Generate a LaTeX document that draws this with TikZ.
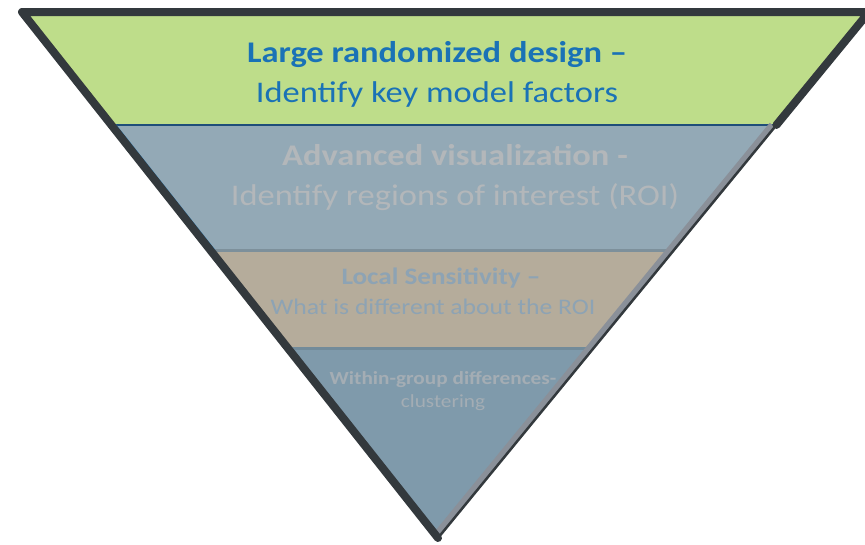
\documentclass[tikz,border=0pt]{standalone}
\usepackage{fontspec}
\setmainfont{Carlito}[FakeStretch=1.15]
\usetikzlibrary{calc}
\definecolor{rimdark}{HTML}{33393D}
\definecolor{rimgray}{HTML}{8A9099}
\definecolor{seamblue}{HTML}{1F4E79}
\definecolor{edgeblue}{HTML}{3FA3E8}
\definecolor{layergreen}{HTML}{BEDD8A}
\definecolor{layerblue}{HTML}{93A9B6}
\definecolor{layertan}{HTML}{B5AC9B}
\definecolor{layerslate}{HTML}{7F9AAB}
\definecolor{titleblue}{HTML}{1A72B6}
\definecolor{palegray}{HTML}{B3B7BA}
\definecolor{tanblue}{HTML}{8DA3B4}
\definecolor{slategray}{HTML}{A4ADB4}
\tikzset{
  caption/.style={align=center, inner sep=0pt},
  seam/.style={line width=3pt},
}
\begin{document}
\begin{tikzpicture}[x=1pt,y=-1pt]
\useasboundingbox (0,0) rectangle (865,544);
% corners of the funnel
\coordinate (tl) at (22,12);
\coordinate (tr) at (869,12);
\coordinate (ap) at (438,538);
% layer borders
\coordinate (l1) at ($(tl)!0.2148!(ap)$);
\coordinate (r1) at ($(tr)!0.2148!(ap)$);
\coordinate (l2) at ($(tl)!0.4525!(ap)$);
\coordinate (r2) at ($(tr)!0.4525!(ap)$);
\coordinate (l3) at ($(tl)!0.6388!(ap)$);
\coordinate (r3) at ($(tr)!0.6388!(ap)$);

\fill[layergreen] (tl) -- (tr) -- (r1) -- (l1) -- cycle;
\fill[layerblue] (l1) -- (r1) -- (r2) -- (l2) -- cycle;
\fill[layertan] (l2) -- (r2) -- (r3) -- (l3) -- cycle;
\fill[layerslate] (l3) -- (r3) -- (ap) -- cycle;

\draw[seam, layerblue!85!black] (l2) -- (r2);
\draw[seam, layerslate!90!black] (l3) -- (r3);
\draw[line width=1.5pt, seamblue] (l1) -- (r1);
\draw[line width=2pt, edgeblue] ($(l1)+(4,0)$) -- ($(l2)+(4,0)$);
\draw[line width=7pt, rimgray] ($(r1)+(-4,0)$) -- ($(ap)+(0,-5)$);
\draw[line width=8pt, rimdark, line join=round, line cap=round] (r1) -- (tr) -- (tl) -- (ap);
\draw[line width=2.5pt, rimdark] (r1) -- (ap);

\node[caption, font=\fontsize{30}{40}\selectfont, text=titleblue] (design) at (437,74)
  {\textbf{Large randomized design –}\\Identify key model factors};
\node[caption, font=\fontsize{30}{40}\selectfont, text=palegray] (visual) at (455,178)
  {\textbf{Advanced visualization -}\\Identify regions of interest (ROI)};
\node[caption, font=\fontsize{22.3}{30}\selectfont, text=tanblue] (local) at (433,291)
  {\hspace*{16pt}{\fontsize{23.6}{30}\selectfont\textbf{Local Sensitivity –}}\\What is different about the ROI};
\node[caption, font=\fontsize{18.5}{23}\selectfont, text=slategray] (cluster) at (443,391)
  {\textbf{Within-group differences-}\\clustering};
\end{tikzpicture}
\end{document}
